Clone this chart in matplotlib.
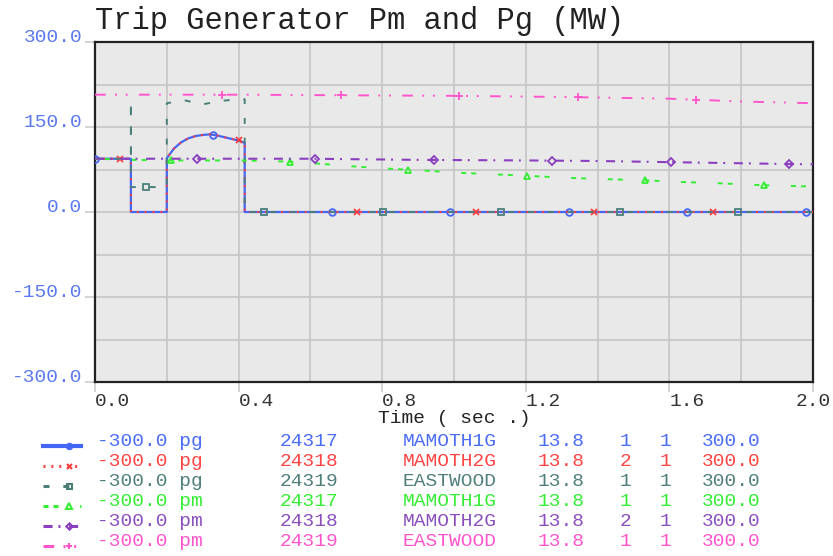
import matplotlib
matplotlib.use("Agg")
import matplotlib.pyplot as plt
import numpy as np
from matplotlib.lines import Line2D

# ---- data ----
t_pg1 = [0, 0.1, 0.1, 0.2, 0.2, 0.22, 0.24, 0.26, 0.28, 0.30, 0.32, 0.34, 0.36, 0.38, 0.40, 0.417, 0.417, 2.0]
pg_24317 = [94, 94, 0, 0, 95, 112, 123, 130, 134, 136, 137, 135, 132, 129, 126, 122, 0, 0]
t_pg2 = [0, 0.1, 0.1, 0.2, 0.2, 0.22, 0.24, 0.26, 0.28, 0.30, 0.32, 0.34, 0.36, 0.38, 0.40, 0.417, 0.417, 2.0]
pg_24318 = [94, 94, 0, 0, 95, 112, 123, 130, 134, 136, 137, 135, 132, 129, 127, 122, 0, 0]
t_pg3 = [0, 0.1, 0.1, 0.1, 0.2, 0.2, 0.25, 0.3, 0.35, 0.4, 0.417, 0.417, 2.0]
pg_24319 = [94, 94, 196, 44, 44, 192, 197, 190, 196, 199, 199, 0, 0]
t_pm1 = [0, 0.1, 0.2, 0.3, 0.4, 0.5, 0.63, 0.73, 0.83, 0.92, 1.02, 1.13, 1.23, 1.33, 1.42, 1.53, 1.63, 1.73, 1.83, 1.93, 2.0]
pm_24317 = [94, 92, 91, 91, 91, 90, 85, 80, 76, 73, 69, 66, 63, 60, 58, 56, 53, 51, 48, 46, 45]
t_pm2 = [0, 0.3, 0.6, 0.9, 1.2, 1.4, 1.6, 1.8, 2.0]
pm_24318 = [94, 94, 94, 92, 91, 90, 88, 86, 84]
t_pm3 = [0, 0.4, 0.7, 1.0, 1.3, 1.6, 1.8, 2.0]
pm_24319 = [207, 207, 206, 205, 203, 200, 195, 192]

quantity = ["pg", "pg", "pg", "pm", "pm", "pm"]
bus = ["24317", "24318", "24319", "24317", "24318", "24319"]
names = ["MAMOTH1G", "MAMOTH2G", "EASTWOOD", "MAMOTH1G", "MAMOTH2G", "EASTWOOD"]
kv = ["13.8"] * 6
ids = ["1", "2", "1", "1", "2", "1"]
col5 = ["1"] * 6
ymin_txt = "-300.0"
ymax_txt = "300.0"

W, H = 833, 556
FONT = "Liberation Mono"
plt.rcParams["font.family"] = [FONT, "DejaVu Sans Mono"]
plt.rcParams["lines.scale_dashes"] = False

series = [
    (t_pg1, pg_24317, dict(color="#4466f5", lw=1.6, ls="-"), "o", 4.8),
    (t_pg2, pg_24318, dict(color="#ff3b3b", lw=1.5, ls=(0, (1.4, 4.3))), "x", 4.5),
    (t_pg3, pg_24319, dict(color="#4a7f7a", lw=1.4, ls=(0, (4.3, 10))), "s", 4.5),
    (t_pm1, pm_24317, dict(color="#33ee33", lw=1.4, ls=(0, (3.6, 3.6, 3.6, 15.6))), "^", 5),
    (t_pm2, pm_24318, dict(color="#8a3fbf", lw=1.5, ls=(0, (6.5, 4.3, 1.4, 6.2))), "D", 4),
    (t_pm3, pm_24319, dict(color="#ff55cc", lw=1.4, ls=(0, (7.7, 6.7, 1.4, 6.3, 1.4, 8.1))), "+", 5.5),
]
text_colors = ["#4a6cf7", "#ff4444", "#4f7f7c", "#33ee33", "#8a4fbf", "#ff55cc"]

fig = plt.figure(figsize=(W / 100, H / 100), dpi=100)
ax = fig.add_axes([95 / W, 1 - 382 / H, (813 - 95) / W, (382 - 42) / H])
ax.set_facecolor("#e9e9e9")

mark_step = 0.33
mark_shift = 0.071
order = [5, 4, 3, 2, 0, 1]
for i in order:
    t, v, style, mk, ms = series[i]
    ax.plot(t, v, zorder=3 + i, **style)
    mt = np.arange(i * mark_shift, 2.0, mark_step)
    mv = np.interp(mt, t, v)
    ax.plot(mt, mv, ls="none", marker=mk, ms=ms, mfc="none", mec=style["color"],
            mew=1.3, zorder=3 + i)

ax.set_xlim(0, 2.0)
ax.set_ylim(-300, 300)
ax.set_xticks(np.arange(0, 2.01, 0.4))
ax.set_xticks(np.arange(0, 2.01, 0.2), minor=True)
ax.set_yticks(np.arange(-300, 301, 150))
ax.set_yticks(np.arange(-300, 301, 75), minor=True)
ax.set_xticklabels([f"{x:.1f}" for x in np.arange(0, 2.01, 0.4)])
ax.set_yticklabels([f"{y:.1f}" for y in np.arange(-300, 301, 150)])
ax.grid(True, which="both", color="#c8c8c8", lw=1.3)
ax.set_axisbelow(True)
ax.tick_params(axis="both", which="major", length=7, color="#cccccc", width=1.2)
ax.tick_params(axis="both", which="minor", length=0)
ax.tick_params(axis="y", labelsize=14, labelcolor="#5a78f0", pad=2)
ax.tick_params(axis="x", labelsize=14, labelcolor="#333333", pad=1)
for lab in ax.get_yticklabels():
    lab.set_va("baseline")
xl = ax.get_xticklabels()
for lab in xl[:-1]:
    lab.set_ha("left")
xl[-1].set_ha("center")
for s in ax.spines.values():
    s.set_color("#222222")
    s.set_linewidth(1.6)

ax.set_xlabel("Time ( sec .)", fontsize=14, color="#222222", labelpad=0)
fig.text(95 / W, 1 - 29 / H, "Trip Generator Pm and Pg (MW)", fontsize=22,
         color="#222222", ha="left", va="baseline")

# legend block
row_y = [442, 462, 482, 502, 522, 542]
col_x = [97, 280, 403, 538, 620, 660, 702]
for k in range(6):
    t, v, style, mk, ms = series[k]
    yy = 1 - (row_y[k] + 4) / H
    lw = 3 if k == 0 else 2.2
    fig.add_artist(Line2D([43 / W, 81 / W], [yy, yy], transform=fig.transFigure,
                          color=style["color"], lw=lw, ls=style["ls"]))
    fig.add_artist(Line2D([69 / W], [yy], transform=fig.transFigure, ls="none",
                          marker=mk, ms=ms * 0.8, mfc="none", mec=style["color"], mew=1.5))
    cells = [f"{ymin_txt} {quantity[k]}", bus[k], names[k], kv[k], ids[k], col5[k], ymax_txt]
    for cx, txt in zip(col_x, cells):
        fig.text(cx / W, 1 - row_y[k] / H, txt, fontsize=14, color=text_colors[k],
                 ha="left", va="center")

fig.savefig("out.png", dpi=100)
